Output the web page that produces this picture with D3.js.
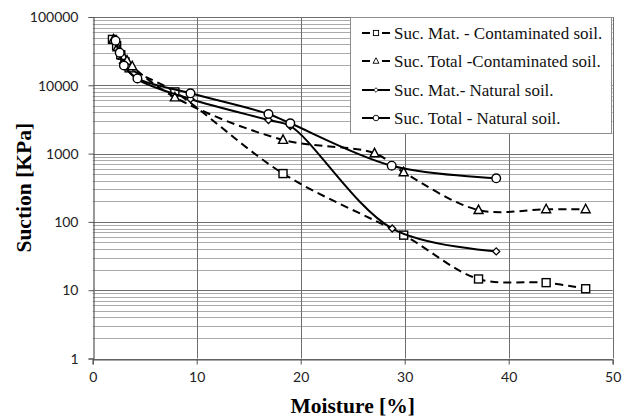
<!DOCTYPE html>
<html>
<head>
<meta charset="utf-8">
<script src="https://cdn.jsdelivr.net/npm/d3@7"></script>
<style>
  body { margin:0; background:#fff; }
  svg { display:block; }
</style>
</head>
<body>
<svg id="chart" width="632" height="417"></svg>
<script>
//-----------------------------------------------------------------------------
// DATA
var xTicks = [0, 10, 20, 30, 40, 50];
var yTicks = [1, 10, 100, 1000, 10000, 100000];

var matContamX   = [1.9, 2.3, 2.7, 3.1, 3.5, 7.9, 18.3, 29.9, 37.1, 43.6, 47.4];
var matContamY   = [47000, 38000, 28000, 22000, 18000, 8000, 510, 64, 14.6, 12.9, 10.5];

var totContamX   = [2.0, 2.4, 2.9, 3.3, 3.8, 7.9, 18.3, 27.1, 29.9, 37.1, 43.6, 47.4];
var totContamY   = [47000, 36000, 27000, 23000, 19000, 6650, 1590, 1010, 532, 149, 153, 153];

var matNaturalX  = [2.1, 2.5, 2.9, 4.3, 9.4, 16.9, 19.0, 28.8, 38.8];
var matNaturalY  = [46000, 32000, 21000, 12300, 6300, 3100, 2535, 80, 37];

var totNaturalX  = [2.2, 2.6, 3.0, 4.3, 9.4, 16.9, 19.0, 28.75, 38.8];
var totNaturalY  = [45000, 30000, 19500, 12600, 7640, 3800, 2780, 665, 435];

var seriesNames  = ["Suc. Mat. - Contaminated soil.",
                    "Suc. Total -Contaminated soil.",
                    "Suc. Mat.- Natural soil.",
                    "Suc. Total - Natural soil."];
//-----------------------------------------------------------------------------
// CONFIG
var config = {
  'left'   : 92.7,
  'right'  : 612.7,
  'top'    : 17,
  'bottom' : 358.5,
  'ink'    : "#000000",
  'minor'  : "#ababab",
  'major'  : "#6e6e6e"
};

var series = [
  { name: seriesNames[0], xs: matContamX,  ys: matContamY,  dash: "8,5", marker: "square"   },
  { name: seriesNames[1], xs: totContamX,  ys: totContamY,  dash: "8,5", marker: "triangle" },
  { name: seriesNames[2], xs: matNaturalX, ys: matNaturalY, dash: null,  marker: "diamond"  },
  { name: seriesNames[3], xs: totNaturalX, ys: totNaturalY, dash: null,  marker: "circle"   }
];
//-----------------------------------------------------------------------------
// SCALES
var x = d3.scaleLinear().domain([0, 50]).range([config.left, config.right]);
var y = d3.scaleLog().domain([1, 100000]).range([config.bottom, config.top]);

var svg = d3.select("#chart");
//-----------------------------------------------------------------------------
// GRID
var minorVals = [];
for (var k = 0; k < 5; k++) {
  for (var m = 2; m <= 9; m++) minorVals.push(m * Math.pow(10, k));
}

var grid = svg.append("g");
grid.selectAll("line.minor").data(minorVals).enter().append("line")
    .attr("x1", config.left).attr("x2", config.right)
    .attr("y1", function(d){ return Math.round(y(d)) + 0.5; })
    .attr("y2", function(d){ return Math.round(y(d)) + 0.5; })
    .attr("stroke", config.minor).attr("stroke-width", 1);

grid.selectAll("line.hmajor").data(yTicks).enter().append("line")
    .attr("x1", config.left).attr("x2", config.right)
    .attr("y1", function(d){ return Math.round(y(d)) + 0.5; })
    .attr("y2", function(d){ return Math.round(y(d)) + 0.5; })
    .attr("stroke", config.major).attr("stroke-width", 1);

grid.selectAll("line.vmajor").data(xTicks.slice(1)).enter().append("line")
    .attr("x1", function(d){ return Math.round(x(d)) + 0.5; })
    .attr("x2", function(d){ return Math.round(x(d)) + 0.5; })
    .attr("y1", config.top).attr("y2", config.bottom)
    .attr("stroke", config.major).attr("stroke-width", 1);
//-----------------------------------------------------------------------------
// AXES
var xAxis = d3.axisBottom(x).tickValues(xTicks).tickSize(5).tickFormat(d3.format("d"));
var yAxis = d3.axisLeft(y).tickValues(yTicks).tickSize(5).tickFormat(d3.format("d"));

var gx = svg.append("g")
    .attr("transform", "translate(0," + (Math.round(config.bottom) + 0.5) + ")")
    .call(xAxis);
var gy = svg.append("g")
    .attr("transform", "translate(" + (Math.round(config.left) + 0.5) + ",0)")
    .call(yAxis);

[gx, gy].forEach(function(g){
  g.select(".domain").attr("stroke", "#555").attr("stroke-width", 1.2);
  g.selectAll(".tick line").attr("stroke", "#555");
  g.selectAll(".tick text")
   .attr("fill", "#222")
   .style("font-family", "Lato, 'Liberation Sans', sans-serif")
   .style("font-size", "14px");
});
gx.selectAll(".tick text").attr("dy", "1.05em");
gy.selectAll(".tick text").attr("x", -15).attr("dy", "0.34em");
//-----------------------------------------------------------------------------
// SERIES
var lineGen = d3.line()
    .x(function(d){ return x(d[0]); })
    .y(function(d){ return y(d[1]); })
    .curve(d3.curveCatmullRom.alpha(0.5));

function drawMarker(g, type, cx, cy, s) {
  s = s || 1;
  if (type === "square") {
    g.append("rect").attr("x", cx - 4 * s).attr("y", cy - 4 * s).attr("width", 8 * s).attr("height", 8 * s)
     .attr("fill", "#fff").attr("stroke", config.ink).attr("stroke-width", 1.4 * s);
  } else if (type === "triangle") {
    g.append("path").attr("d", "M" + cx + "," + (cy - 5 * s) + "L" + (cx + 4.5 * s) + "," + (cy + 3.5 * s) + "L" + (cx - 4.5 * s) + "," + (cy + 3.5 * s) + "Z")
     .attr("fill", "#fff").attr("stroke", config.ink).attr("stroke-width", 1.4 * s);
  } else if (type === "diamond") {
    g.append("path").attr("d", "M" + cx + "," + (cy - 3.5 * s) + "L" + (cx + 3.5 * s) + "," + cy + "L" + cx + "," + (cy + 3.5 * s) + "L" + (cx - 3.5 * s) + "," + cy + "Z")
     .attr("fill", "#fff").attr("stroke", config.ink).attr("stroke-width", 1.3 * s);
  } else {
    g.append("circle").attr("cx", cx).attr("cy", cy).attr("r", 4.3 * s)
     .attr("fill", "#fff").attr("stroke", config.ink).attr("stroke-width", 1.4 * s);
  }
}

series.forEach(function(s){
  var pts = s.xs.map(function(v, i){ return [v, s.ys[i]]; });
  var g = svg.append("g");
  g.append("path")
   .attr("d", lineGen(pts))
   .attr("fill", "none")
   .attr("stroke", config.ink)
   .attr("stroke-width", 2)
   .attr("stroke-dasharray", s.dash);
  pts.forEach(function(p){ drawMarker(g, s.marker, x(p[0]), y(p[1])); });
});
//-----------------------------------------------------------------------------
// LEGEND
var legend = svg.append("g");
legend.append("rect")
    .attr("x", 350.5).attr("y", 17.5).attr("width", 261).attr("height", 116)
    .attr("fill", "#fff").attr("stroke", "#8c8c8c").attr("stroke-width", 1);

var rowY = [33, 61, 90, 118];
series.forEach(function(s, i){
  var row = legend.append("g");
  if (s.dash) {
    row.append("line").attr("x1", 362).attr("x2", 370).attr("y1", rowY[i]).attr("y2", rowY[i])
       .attr("stroke", config.ink).attr("stroke-width", 2);
    row.append("line").attr("x1", 382).attr("x2", 390).attr("y1", rowY[i]).attr("y2", rowY[i])
       .attr("stroke", config.ink).attr("stroke-width", 2);
  } else {
    row.append("line").attr("x1", 362).attr("x2", 390).attr("y1", rowY[i]).attr("y2", rowY[i])
       .attr("stroke", config.ink).attr("stroke-width", 2);
  }
  drawMarker(row, s.marker, 376, rowY[i], 0.65);
  row.append("text")
     .attr("x", 394).attr("y", rowY[i]).attr("dy", "0.35em")
     .style("font-family", "'Liberation Serif', 'Times New Roman', serif")
     .style("font-size", "17px")
     .attr("fill", "#111")
     .text(s.name);
});
//-----------------------------------------------------------------------------
// TITLES
svg.append("text")
   .attr("x", (config.left + config.right) / 2).attr("y", 413)
   .attr("text-anchor", "middle")
   .style("font-family", "'Liberation Serif', 'Times New Roman', serif")
   .style("font-size", "21.5px").style("font-weight", "bold")
   .text("Moisture [%]");

svg.append("text")
   .attr("transform", "translate(31," + ((config.top + config.bottom) / 2) + ") rotate(-90)")
   .attr("text-anchor", "middle")
   .style("font-family", "'Liberation Serif', 'Times New Roman', serif")
   .style("font-size", "21.5px").style("font-weight", "bold")
   .text("Suction [KPa]");
//-----------------------------------------------------------------------------
</script>
</body>
</html>
